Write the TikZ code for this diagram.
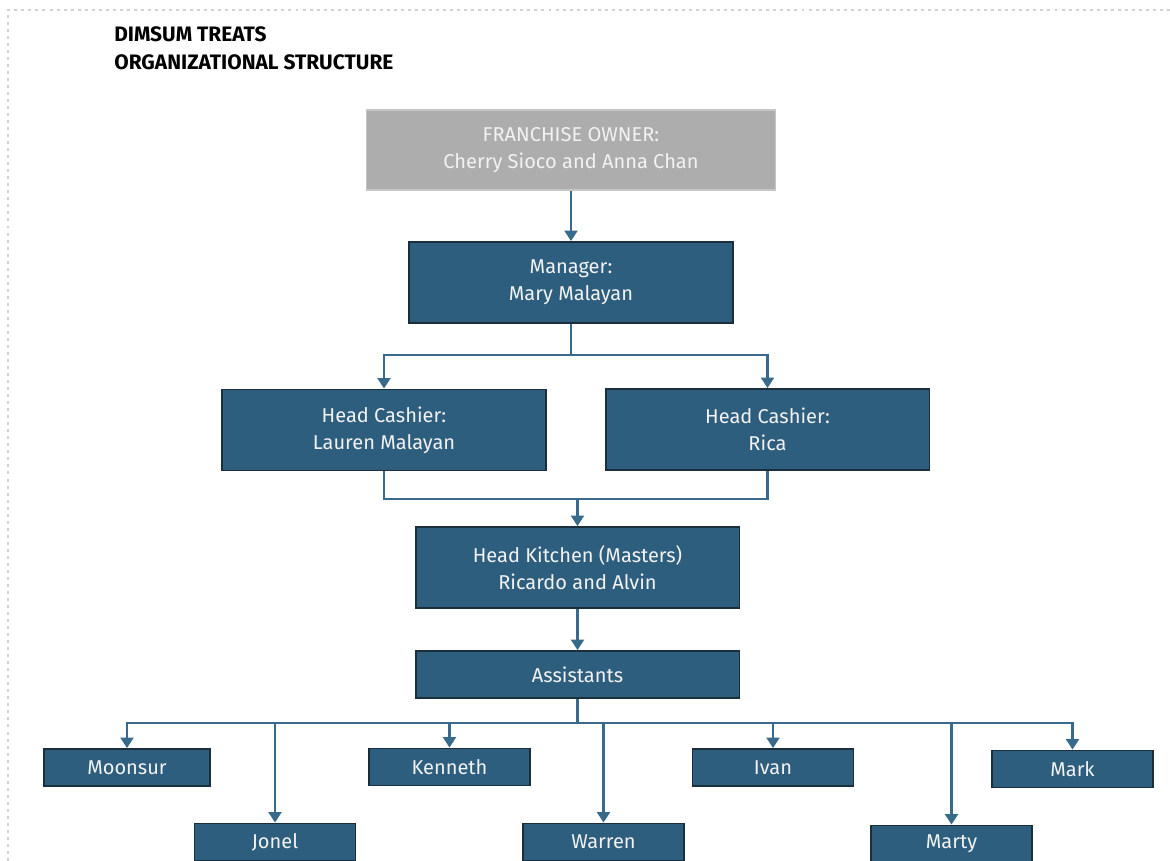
\documentclass[tikz,border=0pt]{standalone}
\usepackage{fontspec}
\setmainfont{Fira Sans}
\usepackage{tikz}
\usetikzlibrary{arrows.meta}

\definecolor{boxfill}{HTML}{2E5E7E}
\definecolor{boxline}{HTML}{1B2E3C}
\definecolor{connline}{HTML}{386A8C}
\definecolor{ownerfill}{HTML}{ADADAD}

\begin{document}
\begin{tikzpicture}[x=0.02cm,y=-0.02cm,
    every node/.style={font=\fontsize{11.4}{15.4}\selectfont},
    box/.style={draw=boxline, fill=boxfill, text=white!95!black, line width=1.1pt,
        align=center, inner sep=0pt, minimum width=6.48cm, minimum height=1.62cm},
    smallbox/.style={box, minimum width=3.22cm, minimum height=0.74cm},
    conn/.style={draw=connline, line width=1.4pt,
        -{Triangle[length=0.21cm,width=0.26cm]}},
    plain/.style={draw=connline, line width=1.4pt}]
            \useasboundingbox (0,0) rectangle (1170,861);
            \clip (0,0) rectangle (1170,861);
            % page edge
            \draw[gray!35, line width=0.6pt, dash pattern=on 1.7pt off 2.3pt]
            (8,861) -- (8,10) -- (1170,10);
            % Title
            \node[anchor=base west, align=left, inner sep=0pt,
            font=\bfseries\fontsize{11.9}{16.5}\selectfont]
            (title) at (114,70) {DIMSUM TREATS\\ORGANIZATIONAL STRUCTURE};
            % Owner and manager
            \node[box, draw=gray!45, line width=0.6pt, fill=ownerfill, minimum width=8.2cm,
            minimum height=1.6cm] (owner) at (571,150) {FRANCHISE OWNER:\\Cherry Sioco and Anna Chan};
            \node[box] (manager) at (571,282.5) {Manager:\\Mary Malayan};
            \draw[conn] (owner) -- (manager);
            % Head cashiers
            \node[box] (cashA) at (384,430) {Head Cashier:\\Lauren Malayan};
            \node[box] (cashB) at (767.5,429.5) {Head Cashier:\\Rica};
            \coordinate (bus1) at (571,355);
            \draw[plain] (manager) -- (bus1);
            \draw[conn] (bus1) -| (cashA);
            \draw[conn] (bus1) -| (cashB);
            % Head kitchen
            \node[box] (kitchen) at (577.5,567.5) {Head Kitchen (Masters)\\Ricardo and Alvin};
            \coordinate (bus2) at (577.5,499);
            \draw[plain] (cashA.south) |- (bus2) -| (cashB.south);
            \draw[conn] (bus2) -- (kitchen);
            % Assistants
            \node[box, minimum height=0.94cm] (assist) at (577.5,674.5) {Assistants};
            \draw[conn] (kitchen) -- (assist);
            \coordinate (bus3) at (577.5,723);
            \draw[plain] (assist) -- (bus3);
            % Staff
            \node[smallbox, minimum width=3.32cm] (moonsur) at (127,767.5) {Moonsur};
            \node[smallbox] (jonel) at (275,842) {Jonel};
            \node[smallbox] (kenneth) at (449.5,767) {Kenneth};
            \node[smallbox] (warren) at (603.5,842) {Warren};
            \node[smallbox] (ivan) at (773,767.5) {Ivan};
            \node[smallbox] (marty) at (951.5,844) {Marty};
            \node[smallbox] (mark) at (1072.5,769) {Mark};
            \foreach \n in {moonsur,jonel,kenneth,warren,ivan,marty,mark}
            \draw[conn] (bus3) -| (\n);
        \end{tikzpicture}
\end{document}
